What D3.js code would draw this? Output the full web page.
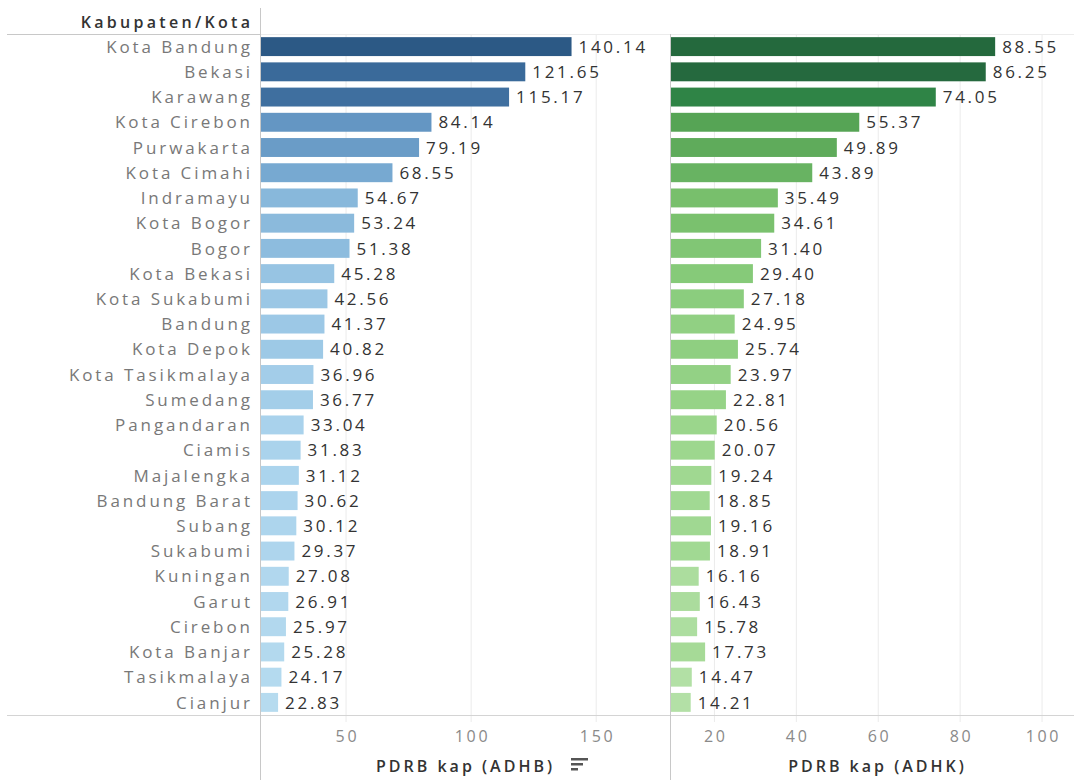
<!DOCTYPE html>
<html><head><meta charset="utf-8">
<script src="https://cdn.jsdelivr.net/npm/d3@7"></script>
<style>
body{margin:0;background:#fff;}
svg{display:block;font-family:"Open Sans",sans-serif;}
</style></head><body>
<svg id="c" width="1074" height="780"></svg>
<script>
const regions = ["Kota Bandung","Bekasi","Karawang","Kota Cirebon","Purwakarta","Kota Cimahi","Indramayu","Kota Bogor","Bogor","Kota Bekasi","Kota Sukabumi","Bandung","Kota Depok","Kota Tasikmalaya","Sumedang","Pangandaran","Ciamis","Majalengka","Bandung Barat","Subang","Sukabumi","Kuningan","Garut","Cirebon","Kota Banjar","Tasikmalaya","Cianjur"];
const adhb = [140.14,121.65,115.17,84.14,79.19,68.55,54.67,53.24,51.38,45.28,42.56,41.37,40.82,36.96,36.77,33.04,31.83,31.12,30.62,30.12,29.37,27.08,26.91,25.97,25.28,24.17,22.83];
const adhk = [88.55,86.25,74.05,55.37,49.89,43.89,35.49,34.61,31.40,29.40,27.18,24.95,25.74,23.97,22.81,20.56,20.07,19.24,18.85,19.16,18.91,16.16,16.43,15.78,17.73,14.47,14.21];
const ticksADHB = [50,100,150];
const ticksADHK = [20,40,60,80,100];
const headerLabel = "Kabupaten/Kota";
const titleADHB = "PDRB kap (ADHB)";
const titleADHK = "PDRB kap (ADHK)";

(function(){
const svg = d3.select("#c");
const yTop = 34, yBot = 715;
const y = d3.scaleBand().domain(regions).range([yTop, yBot]).paddingInner(0.25).paddingOuter(0.125);

const xL = d3.scaleLinear().domain([16.0, 179.5]).range([261, 670]);
const xR = d3.scaleLinear().domain([9.4, 107.8]).range([671, 1074]);

const colL = d3.scaleLinear()
  .domain([22.83, 33, 45, 55, 68.5, 84, 115, 121.6, 140.14])
  .range(["#b6dbef","#a9d2ec","#97c4e3","#88b8db","#77a9d1","#6496c3","#3f6f9f","#3a6a9a","#2c5985"]);
const colR = d3.scaleLinear()
  .domain([14.21, 20.5, 29.4, 35.5, 43.9, 55.4, 74, 86, 88.55])
  .range(["#b3e0a6","#9bd68c","#86ca79","#78bf6c","#68b362","#56a455","#2f8446","#25693e","#24693d"]);

function grid(x, ticks){
  svg.append("g").selectAll("line").data(ticks).join("line")
    .attr("x1", d=>x(d)).attr("x2", d=>x(d))
    .attr("y1", yTop).attr("y2", yBot+7)
    .attr("stroke", "#ebebeb").attr("stroke-width", 1);
}
grid(xL, ticksADHB);
grid(xR, ticksADHK);

svg.append("line").attr("x1",7).attr("x2",260).attr("y1",yTop+0.5).attr("y2",yTop+0.5).attr("stroke","#c8c8c8");
svg.append("line").attr("x1",260).attr("x2",1074).attr("y1",yTop+0.5).attr("y2",yTop+0.5).attr("stroke","#ececec");
svg.append("line").attr("x1",7).attr("x2",1074).attr("y1",yBot+0.5).attr("y2",yBot+0.5).attr("stroke","#d4d4d4");
svg.append("line").attr("x1",260.5).attr("x2",260.5).attr("y1",8).attr("y2",780).attr("stroke","#c8c8c8");
svg.append("line").attr("x1",670.5).attr("x2",670.5).attr("y1",yTop).attr("y2",780).attr("stroke","#c8c8c8");

const LS = 2.9;
svg.append("text").attr("x",250+3.3).attr("y",28).attr("text-anchor","end")
  .attr("font-size",16).attr("font-weight",600).attr("fill","#333").attr("letter-spacing","3.3px")
  .text(headerLabel);

svg.append("g").selectAll("text").data(regions).join("text")
  .attr("x",250+LS).attr("y",d=>y(d)+y.bandwidth()/2).attr("dy","0.36em")
  .attr("text-anchor","end").attr("font-size",17).attr("fill","#787878").attr("letter-spacing",LS+"px")
  .text(d=>d);

function bars(x, vals, col){
  const g = svg.append("g");
  g.selectAll("rect").data(vals).join("rect")
    .attr("x", x.range()[0]).attr("y",(d,i)=>y(regions[i]))
    .attr("width",d=>x(d)-x.range()[0]).attr("height",y.bandwidth())
    .attr("fill",d=>col(d));
  g.selectAll("text").data(vals).join("text")
    .attr("x",d=>x(d)+7).attr("y",(d,i)=>y(regions[i])+y.bandwidth()/2).attr("dy","0.36em")
    .attr("font-size",17).attr("fill","#333").attr("letter-spacing","2.7px")
    .text(d=>d.toFixed(2));
}
bars(xL, adhb, colL);
bars(xR, adhk, colR);

function axisLabels(x, ticks){
  svg.append("g").selectAll("text").data(ticks).join("text")
    .attr("x",d=>x(d)+1.35).attr("y",742).attr("text-anchor","middle")
    .attr("font-size",16).attr("fill","#8a8a8a").attr("letter-spacing","2.7px")
    .text(d=>d);
}
axisLabels(xL, ticksADHB);
axisLabels(xR, ticksADHK);

svg.append("text").attr("x",464+1.5).attr("y",772).attr("text-anchor","middle")
  .attr("font-size",16).attr("font-weight",600).attr("fill","#333").attr("letter-spacing","3px")
  .text(titleADHB);
const si = svg.append("g").attr("fill","#555");
si.append("rect").attr("x",571).attr("y",758).attr("width",17).attr("height",2.5);
si.append("rect").attr("x",571).attr("y",763).attr("width",12).attr("height",2.5);
si.append("rect").attr("x",571).attr("y",768).attr("width",7).attr("height",2.5);

svg.append("text").attr("x",876+1.5).attr("y",772).attr("text-anchor","middle")
  .attr("font-size",16).attr("font-weight",600).attr("fill","#333").attr("letter-spacing","3px")
  .text(titleADHK);
})();
</script>
</body></html>
